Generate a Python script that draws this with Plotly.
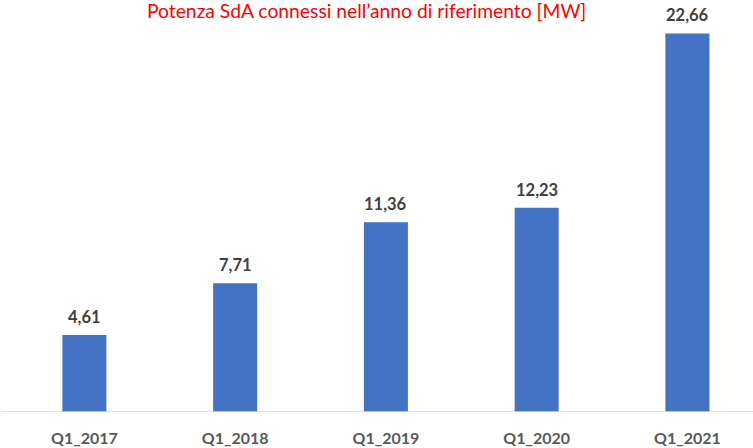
import plotly.graph_objects as go

categories = ["Q1_2017", "Q1_2018", "Q1_2019", "Q1_2020", "Q1_2021"]
values = [4.61, 7.71, 11.36, 12.23, 22.66]
labels = [f"{v:.2f}".replace(".", ",") for v in values]
title_text = "Potenza SdA connessi nell\u2019anno di riferimento [MW]"

fig = go.Figure()
fig.add_trace(go.Bar(
    x=categories, y=values, width=0.292,
    marker=dict(color="#4472C4", line=dict(width=0)),
    hoverinfo="skip",
))
for c, v, t in zip(categories, values, labels):
    fig.add_annotation(x=c, y=v, text=f"<b>{t}</b>", showarrow=False,
                       yanchor="bottom", yshift=6,
                       font=dict(family="Lato", size=16.5, color="#404040"))

fig.add_annotation(xref="paper", yref="paper", x=0.4805, y=1 - 10.5/412.5,
                   text=title_text, showarrow=False, yanchor="middle",
                   font=dict(family="Lato", size=19.3, color="#FF0000"))

fig.add_shape(type="line", xref="paper", yref="y", x0=-0.01, x1=1.0, y0=0, y1=0,
              line=dict(color="#D9D9D9", width=1.5))

fig.update_layout(
    width=753, height=448,
    margin=dict(l=9, r=0, t=0, b=35.5),
    plot_bgcolor="white", paper_bgcolor="white",
    showlegend=False,
    xaxis=dict(range=[-0.5, 4.435], showgrid=False, zeroline=False, showline=False,
               ticks="outside", ticklen=12, tickcolor="rgba(0,0,0,0)",
               tickfont=dict(family="Lato", size=16, color="#595959"),
               tickprefix="<b>", ticksuffix="</b>"),
    yaxis=dict(range=[0, 24.66], visible=False),
)
fig.write_html("out.html", config={"displayModeBar": False},
               post_script="document.body.style.margin='0px';document.body.style.overflow='hidden';")
